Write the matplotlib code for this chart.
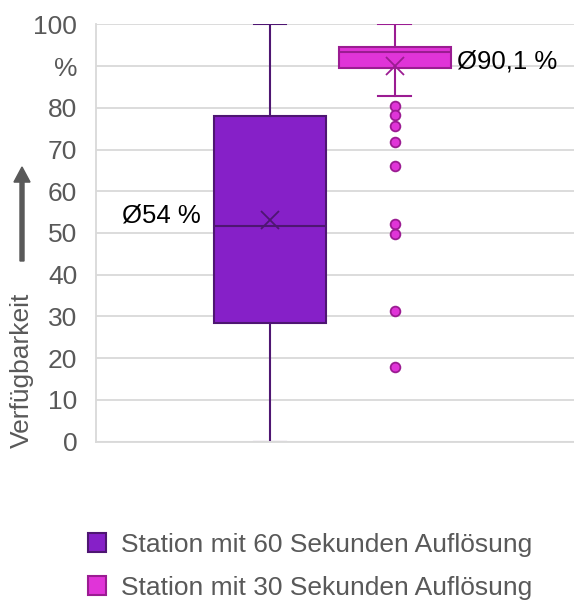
import matplotlib
matplotlib.use("Agg")
import matplotlib.pyplot as plt
from matplotlib.patches import Patch, FancyArrow

plt.rcParams['font.family'] = ['Liberation Sans', 'DejaVu Sans']

# data (percent availability)
series = ["Station mit 60 Sekunden Auflösung", "Station mit 30 Sekunden Auflösung"]
q1 = [28.4, 89.6]
medians = [51.6, 93.3]
q3 = [78.1, 94.5]
whislo = [0.0, 82.8]
whishi = [100.0, 100.0]
means = [53.1, 90.1]
fliers = [[], [80.4, 78.2, 75.6, 71.8, 66.1, 52.2, 49.7, 31.4, 17.8]]
mean_labels = ["Ø54 %", "Ø90,1 %"]
yticks = [0, 10, 20, 30, 40, 50, 60, 70, 80, 90, 100]
ytick_labels = ["0", "10", "20", "30", "40", "50", "60", "70", "80", "%", "100"]

fills = ["#8620C8", "#E034D8"]
edges = ["#4E1672", "#9B1C92"]
text_grey = "#595959"

fig = plt.figure(figsize=(5.74, 6.03), dpi=100)
ax = fig.add_axes([96/574, 1-441.7/603, 1-96/574, (441.7-24.3)/603])

positions = [0.364, 0.6255]
for i in range(2):
    st = dict(med=medians[i], q1=q1[i], q3=q3[i], whislo=whislo[i], whishi=whishi[i],
              mean=means[i], fliers=fliers[i], label=series[i])
    ax.bxp([st], positions=[positions[i]], widths=0.236, capwidths=0.069,
           patch_artist=True, showmeans=True, showfliers=True,
           boxprops=dict(facecolor=fills[i], edgecolor=edges[i], linewidth=1.5),
           medianprops=dict(color=edges[i], linewidth=1.5),
           whiskerprops=dict(color=edges[i], linewidth=1.5),
           capprops=dict(color=edges[i], linewidth=1.5),
           meanprops=dict(marker='x', markeredgecolor=edges[i], markersize=13, markeredgewidth=1.3),
           flierprops=dict(marker='o', markerfacecolor="#E034D8", markeredgecolor="#9B1C92",
                           markersize=7, markeredgewidth=1.3),
           zorder=3)
ax.axhline(0, color='#D9D9D9', linewidth=1.5, zorder=4)

ax.text(positions[0] - 0.145, 54.1, mean_labels[0], ha='right', va='center', fontsize=18.5, color='black')
ax.text(positions[1] + 0.13, 91.2, mean_labels[1], ha='left', va='center', fontsize=18.5, color='black')

ax.set_xlim(0, 1)
ax.set_ylim(0, 100)
ax.set_yticks(yticks)
ax.set_yticklabels(ytick_labels)
ax.set_xticks([])
ax.tick_params(axis='y', length=0, pad=13.5, labelsize=19, labelcolor=text_grey)
ax.grid(axis='y', color='#D9D9D9', linewidth=1.3, zorder=0)
ax.set_axisbelow(True)
for s in ['top', 'right']:
    ax.spines[s].set_visible(False)
ax.spines['left'].set_color('#D9D9D9')
ax.spines['bottom'].set_color('#D9D9D9')
ax.spines['left'].set_linewidth(1.3)
ax.spines['bottom'].set_linewidth(1.3)

# axis title with arrow
fig.text(22/574, 1-370/603, "Verfügbarkeit", rotation=90, ha='center', va='center',
         fontsize=19, color=text_grey)
fig.patches.append(FancyArrow(
    22/574, 1-261/603, 0, (261-167)/603, width=0.007, head_width=0.028, head_length=0.025,
    length_includes_head=True, color=text_grey, transform=fig.transFigure))

handles = [Patch(facecolor=fills[i], edgecolor=edges[i], linewidth=1.5) for i in range(2)]
fig.legend(handles, series, loc='upper left', bbox_to_anchor=(64/574, 1-509/603),
           frameon=False, fontsize=19, handlelength=0.7, handleheight=0.7,
           handletextpad=0.55, labelspacing=0.72, labelcolor=text_grey)

fig.savefig("out.png", dpi=100)
